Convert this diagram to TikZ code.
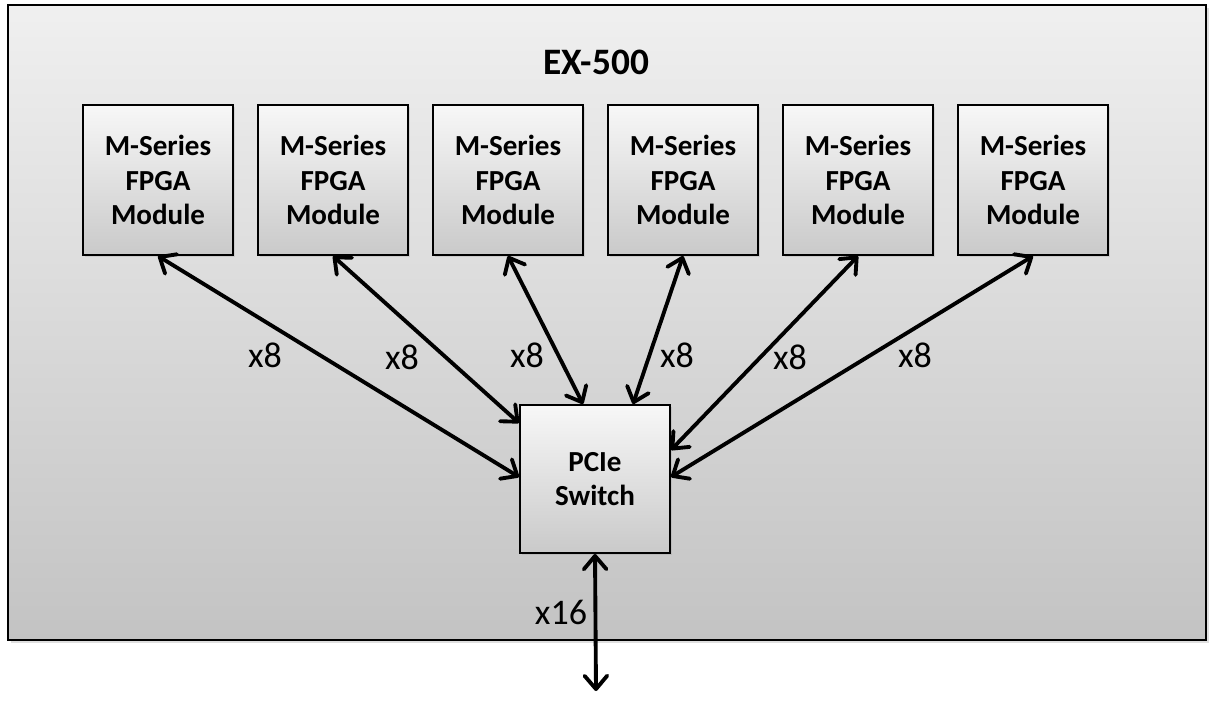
\documentclass[tikz,border=0pt]{standalone}
\usepackage{fontspec}
\setmainfont{Carlito}
\usetikzlibrary{arrows.meta,calc,shadows}

\tikzset{
  board/.style={draw=black,line width=2.2pt,top color=gray!12,bottom color=gray!47,
    drop shadow={shadow xshift=2.5pt,shadow yshift=-2.5pt,opacity=0.25}},
  modbox/.style={draw=black,line width=1.5pt,top color=gray!6,bottom color=gray!42,
    minimum width=112.5pt,minimum height=112.5pt,align=center,
    font=\fontsize{21.8}{26}\selectfont\bfseries,
    drop shadow={shadow xshift=1.5pt,shadow yshift=-1.5pt,opacity=0.2}},
  link/.style={{Straight Barb[length=10pt,width=17pt,round]}-{Straight Barb[length=10pt,width=17pt,round]},
    line width=2.9pt},
  lanes/.style={font=\fontsize{27}{32}\selectfont}
}

\begin{document}
\begin{tikzpicture}[x=0.75pt,y=-0.75pt]
  \useasboundingbox (0,0) rectangle (1212,716);
  % card outline
  \path[board] (8,5) rectangle (1206,640);
  \node[font=\fontsize{28}{34}\selectfont\bfseries] (title) at (596,62) {EX-500};

  % FPGA modules
  \foreach \i in {1,...,6}
    \node[modbox] (m\i) at ({158+175*(\i-1)},180) {M-Series\\FPGA\\Module};

  % switch
  \node[modbox,minimum height=111pt] (sw) at (595,479) {PCIe\\Switch};
  \coordinate (host) at (596,691);

  % links to the switch
  \draw[link] (m1.south) -- ($(sw.west)+(0,-2)$);
  \draw[link] (m2.south) -- ($(sw.west)+(0,-56)$);
  \draw[link] (m3.south) -- ($(sw.north)+(-12,0)$);
  \draw[link] (m4.south) -- ($(sw.north)+(38,0)$);
  \draw[link] (m5.south) -- ($(sw.east)+(0,-29)$);
  \draw[link] (m6.south) -- ($(sw.east)+(0,-2)$);
  \draw[link] (sw.south) -- (host);

  \node[lanes] (l1) at (265,355) {x8};
  \node[lanes] (l2) at (402,357) {x8};
  \node[lanes] (l3) at (527,355) {x8};
  \node[lanes] (l4) at (677,355) {x8};
  \node[lanes] (l5) at (790,357) {x8};
  \node[lanes] (l6) at (915,355) {x8};
  \node[lanes] (l7) at (561,612) {x16};
\end{tikzpicture}
\end{document}
